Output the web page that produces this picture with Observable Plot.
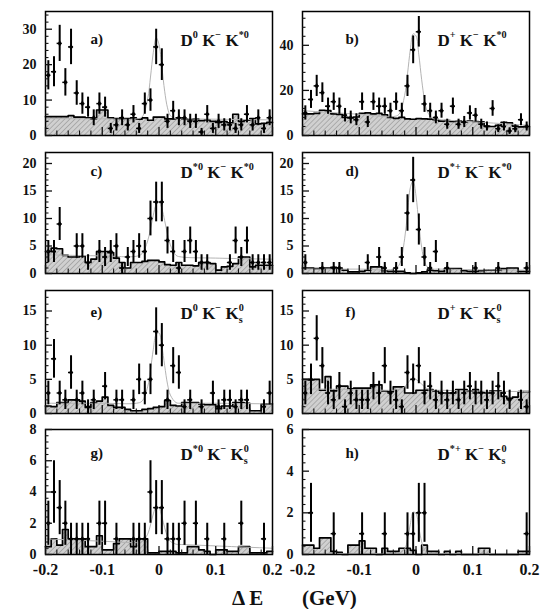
<!DOCTYPE html>
<html><head><meta charset="utf-8">
<script src="https://cdn.jsdelivr.net/npm/d3@7"></script>
<script src="https://cdn.jsdelivr.net/npm/@observablehq/plot@0.6"></script>
<style>
html,body{margin:0;padding:0;background:#fff;}
#root{position:relative;width:545px;height:609px;overflow:hidden;}
#root svg{position:absolute;overflow:visible;}
</style></head><body>
<svg width="0" height="0" style="position:absolute;left:0;top:0">
  <defs>
    <pattern id="hatch" width="3.6" height="3.6" patternUnits="userSpaceOnUse" patternTransform="rotate(45)">
      <rect width="3.6" height="3.6" fill="#d0d0d0"></rect>
      <line x1="0" y1="0" x2="0" y2="3.6" stroke="#7e7e7e" stroke-width="0.9"></line>
    </pattern>
  </defs>
</svg>
<div id="root"></div>
<script>
// ---- binning of ΔE (GeV) ----
const binLo = -0.2, binW = 0.01, nBins = 40;

// ---- data points (events per bin, bin k centred at -0.195 + 0.01k) ----
const countsA = [17,18,26,15,25,12,9,8,5,9,8,2,3,5,3,6,2,9,10,25,20,4,7,5,5,4,4,1,6,2,4,3,3,2,3,6,3,5,2,5];
const countsB = [10,16,22,19,13,15,13,9,8,7,15,6,15,13,13,11,15,11,22,38,46,14,11,8,11,5,13,5,6,10,9,5,4,12,3,4,2,3,7,4];
const countsC = [4,4,9,0,0,5,5,2,0,4,3,4,5,1,3,4,5,4,10,13,13,6,4,1,4,6,4,2,2,0,0,0,2,6,3,6,2,2,2,2];
const countsD = [2,0,0,1,0,1,1,0,0,0,0,2,0,3,1,0,1,3,11,17,8,3,1,4,0,1,0,0,0,0,1,0,0,0,1,0,0,0,0,1];
const countsE = [3,8,3,2,6,2,3,1,2,0,4,0,2,2,0,2,5,3,5,12,10,2,7,6,1,2,0,1,0,3,1,2,2,1,2,2,0,0,1,3];
const countsF = [3,5,11,7,3,2,4,1,3,2,2,2,4,3,7,3,2,1,6,5,7,3,4,2,3,2,3,2,3,4,3,3,2,3,4,3,2,0,2,1];
const countsG = [2,4,3,2,1,1,1,1,0,2,2,0,1,0,0,1,1,1,4,3,3,1,1,1,2,0,2,0,1,0,0,1,0,0,2,0,0,0,1,0];
const countsH = [0,2,0,0,0,1,0,0,0,0,1,0,0,0,1,0,0,0,1,1,2,2,0,0,0,0,0,0,0,0,0,0,0,0,0,0,0,0,0,1];

// ---- background (hatched) histograms, same bins ----
const bkgA = [5.3,5.3,5.3,5.3,5.6,5.2,5.2,5.0,4.7,7.2,7.2,5.0,4.8,4.6,4.8,5.0,4.6,5.0,4.3,5.2,5.2,4.7,4.7,4.9,4.7,4.5,4.7,4.2,4.4,4.0,3.7,3.9,3.6,6.0,4.0,4.3,4.8,3.3,3.4,3.7];
const bkgB = [9.6,9.6,9.8,11.2,11.0,9.6,9.4,8.0,7.8,8.2,9.8,10.0,9.6,9.8,9.2,8.0,7.6,8.0,7.4,7.2,7.5,7.4,7.3,7.0,6.4,6.6,6.2,6.5,6.0,6.4,6.2,6.0,4.2,4.0,4.5,5.8,5.6,4.2,3.8,4.0];
const bkgC = [4.0,4.6,4.5,3.3,3.0,3.0,3.2,2.0,2.6,4.0,4.0,3.8,2.8,2.0,1.0,2.0,2.0,2.2,2.4,2.4,2.1,1.6,1.5,2.0,1.5,1.5,1.4,2.0,2.0,1.8,0.6,1.2,1.3,1.8,3.0,3.0,1.2,1.5,1.5,1.5];
const bkgD = [1.0,1.0,0.9,1.0,1.0,1.1,1.0,0.6,0.3,0.3,0.4,0.6,1.2,1.2,0.5,0.4,0.4,0.4,0.1,0.0,0.1,0.3,0.6,0.5,0.4,0.9,0.9,0.9,0.5,0.4,0.4,0.5,0.6,0.6,0.6,0.9,1.0,1.0,0.4,0.4];
const bkgE = [1.1,1.0,1.6,1.6,2.0,2.0,1.8,0.9,1.6,1.8,2.4,1.2,0.9,0.9,0.6,0.4,0.4,0.6,0.7,0.9,1.0,1.9,1.2,1.1,1.6,1.6,1.6,1.4,1.3,1.3,0.7,1.1,1.1,1.6,1.6,1.5,0.4,0.4,1.4,1.4];
const bkgF = [5.0,4.9,5.0,3.4,5.4,3.3,4.0,4.0,3.6,3.7,3.7,3.7,4.2,4.2,3.3,3.2,3.9,3.9,3.0,3.0,3.4,3.4,3.5,3.3,3.0,3.0,3.0,3.5,3.5,3.3,3.5,3.1,3.0,3.3,3.3,2.5,2.2,2.4,3.2,3.2];
const bkgG = [0.5,1.0,0.6,1.6,1.0,1.0,1.0,0.5,0.5,1.2,0.3,0.3,0.7,1.0,1.0,0.5,1.0,1.0,0.1,0.1,0.2,0.2,0.2,0.1,0.1,0.5,0.5,0.3,0.2,0.0,0.3,0.3,0.2,0.2,0.5,0.5,0.1,0.1,0.1,0.2];
const bkgH = [0.45,0.45,0.3,0.8,0.8,0.15,0.1,0,0.45,0.45,0.65,0.3,0.3,0,0.3,0.15,0.15,0.3,0.3,0.2,0,0.45,0.15,0.15,0,0.15,0,0.15,0,0,0,0.3,0.3,0,0,0,0,0,0.15,0.15];

// ---- fit curves (grey), read at these ΔE positions ----
const fitX = [-0.2,-0.1,-0.04,-0.03,-0.02,-0.015,-0.01,-0.005,0,0.005,0.01,0.015,0.02,0.03,0.04,0.1,0.2];
const fitA = [4.8,4.7,4.7,5.2,10.3,16.5,23.5,27.6,25.7,19.4,12.5,7.8,5.6,4.7,4.7,4.6,4.4];
const fitB = [11,9.4,8.4,9.4,17.8,27.3,38.1,45.1,44.2,35.8,24.7,15.8,10.6,7.5,7.1,6.1,4.5];
const fitC = [3.4,3.2,3.13,3.6,5.9,8.1,10.6,12.5,13.0,11.8,9.6,7.1,5.2,3.3,3.0,2.8,2.6];
const fitD = [0.8,0.8,0.8,1.5,6.3,11.1,15.6,16.9,14.1,9.1,4.7,2.2,1.2,0.8,0.8,0.7,0.6];
const fitE = [1.5,1.5,1.5,1.8,3.9,6.4,9.4,11.6,11.8,9.9,7.0,4.3,2.7,1.6,1.5,1.5,1.4];
const fitF = [3.6,3.5,3.4,3.5,3.9,4.4,4.9,5.2,5.0,4.7,4.3,3.9,3.6,3.4,3.4,3.3,3.2];
const fitG = [1.0,0.85,0.76,0.81,1.30,1.89,2.6,3.06,2.99,2.43,1.71,1.15,0.84,0.66,0.64,0.55,0.4];
const fitH = [0.05,0.05,0.05,0.05,0.26,0.72,1.45,2.04,1.96,1.29,0.6,0.21,0.08,0.05,0.05,0.05,0.05];

// ---- tick labels / texts ----
const xMajor = [-0.2,-0.1,0,0.1,0.2];
const xMinor = [-0.18,-0.16,-0.14,-0.12,-0.08,-0.06,-0.04,-0.02,0.02,0.04,0.06,0.08,0.12,0.14,0.16,0.18];
const panelLetters = ["a)","b)","c)","d)","e)","f)","g)","h)"];
const panelTitles = [
  [["D","0"],["K","\u2212"],["K","*0"]],
  [["D","+"],["K","\u2212"],["K","*0"]],
  [["D","*0"],["K","\u2212"],["K","*0"]],
  [["D","*+"],["K","\u2212"],["K","*0"]],
  [["D","0"],["K","\u2212"],["K","0","s"]],
  [["D","+"],["K","\u2212"],["K","0","s"]],
  [["D","*0"],["K","\u2212"],["K","0","s"]],
  [["D","*+"],["K","\u2212"],["K","0","s"]]
];
const yMax = [35,55,22,22,18,18,8,6];
const yMajor = [[0,10,20,30],[0,20,40],[0,5,10,15,20],[0,5,10,15,20],[0,5,10,15],[0,5,10,15],[0,2,4,6,8],[0,2,4,6]];
const yMinorStep = [2,4,1,1,1,1,0.4,0.4];
const axisTitle = ["\u0394 E", "(GeV)"];

// ---- layout ----
const serif = "'Liberation Serif','Times New Roman',serif";
const colLeft = [0,275], colWidth = [275,270], colML = [45,27], colMR = [3,16];
const rowTop = [11,152,290,429], rowH = [124,121,123,125];
const labelDy = [22,13,16,18];

const allCounts = [countsA,countsB,countsC,countsD,countsE,countsF,countsG,countsH];
const allBkg = [bkgA,bkgB,bkgC,bkgD,bkgE,bkgF,bkgG,bkgH];
const allFit = [fitA,fitB,fitC,fitD,fitE,fitF,fitG,fitH];

const binEdges = d3.range(nBins + 1).map(i => +(binLo + i * binW).toFixed(4));
const binCenters = d3.range(nBins).map(i => +(binLo + (i + 0.5) * binW).toFixed(4));

const root = document.getElementById("root");
const NS = "http://www.w3.org/2000/svg";

function plainTitle(segs) {
  return segs.map(([b, sup, sub]) => b + (sup || "") + (sub || "")).join(" ");
}

function setTitle(svg, segs) {
  const key = plainTitle(segs);
  const t = Array.from(svg.querySelectorAll("text")).find(e => e.textContent === key);
  if (!t) return;
  const fs = parseFloat(getComputedStyle(t).fontSize) || 16;
  t.textContent = "";
  let off = 0;
  const add = (str, target, size, dx) => {
    const s = document.createElementNS(NS, "tspan");
    s.textContent = str;
    s.setAttribute("dy", target - off); off = target;
    if (size) s.setAttribute("font-size", size);
    if (dx) s.setAttribute("dx", dx);
    t.appendChild(s); return s;
  };
  segs.forEach(([base, sup, sub], i) => {
    add((i ? " " : "") + base, 0);
    let supEl = null;
    if (sup) supEl = add(sup, -0.42 * fs, 0.6 * fs);
    if (sub) {
      const w = supEl ? supEl.getComputedTextLength() : 0;
      add(sub, 0.28 * fs, 0.6 * fs, -w);
    }
  });
}

for (let p = 0; p < 8; p++) {
  const col = p % 2, row = Math.floor(p / 2);
  const mT = 6, mB = row === 3 ? 30 : 6;
  const counts = allCounts[p], bkg = allBkg[p], fit = allFit[p];
  const pts = binCenters.map((x, i) => ({x, n: counts[i]})).filter(d => d.n > 0);
  const hist = binEdges.map((x, i) => ({x, v: bkg[Math.min(i, nBins - 1)]}));
  const fitData = fitX.map((x, i) => ({x, y: fit[i]}));
  const minor = d3.range(0, yMax[p] + 1e-9, yMinorStep[p]).map(v => +v.toFixed(3)).filter(v => !yMajor[p].some(m => Math.abs(m - v) < 1e-6));
  const showX = row === 3;
  const fmtX = showX ? (d => String(d)) : (() => "");

  const svg = Plot.plot({
    width: colWidth[col],
    height: mT + rowH[row] + mB,
    marginLeft: colML[col], marginRight: colMR[col], marginTop: mT, marginBottom: mB,
    x: {domain: [-0.2, 0.2], label: null},
    y: {domain: [0, yMax[p]], label: null},
    style: {background: "transparent", fontFamily: serif, color: "#111", overflow: "visible"},
    marks: [
      Plot.areaY(hist, {x: "x", y: "v", curve: "step-after", fill: "url(#hatch)"}),
      Plot.lineY(hist, {x: "x", y: "v", curve: "step-after", stroke: "#000", strokeWidth: 1.7}),
      Plot.line(fitData, {x: "x", y: "y", curve: "catmull-rom", stroke: "#b4b4b4", strokeWidth: 1, clip: true}),
      Plot.ruleX(pts, {x: "x", y1: d => d.n - Math.sqrt(d.n), y2: d => d.n + Math.sqrt(d.n), stroke: "#000", strokeWidth: 2, clip: true}),
      Plot.ruleY(pts, {y: "n", x1: d => d.x - 0.0045, x2: d => d.x + 0.0045, stroke: "#000", strokeWidth: 1.5}),
      Plot.dot(pts, {x: "x", y: "n", r: 2, fill: "#000", symbol: "diamond"}),
      Plot.frame({stroke: "#000", strokeWidth: 1.5}),
      Plot.axisY(yMajor[p], {tickSize: -7, tickPadding: 16, fontSize: 14, fontWeight: "bold", strokeWidth: 1.3}),
      Plot.axisY(minor, {tickSize: -3.5, tickFormat: () => "", strokeWidth: 1.1}),
      Plot.axisX(xMajor, {tickSize: -8, tickPadding: 17, tickFormat: fmtX, fontSize: 16, fontWeight: "bold", strokeWidth: 1.3}),
      Plot.axisX(xMinor, {tickSize: -4.5, tickFormat: () => "", strokeWidth: 1.1}),
      Plot.text([panelLetters[p]], {text: d => d, frameAnchor: "top-left", dx: col ? 43 : 45, dy: labelDy[row], fontSize: 15, fontWeight: "bold", textAnchor: "start", fill: "#111"}),
      Plot.text([panelTitles[p]], {text: d => plainTitle(d), frameAnchor: "top-left", dx: 135, dy: labelDy[row], fontSize: 17, fontWeight: "bold", textAnchor: "start", fill: "#111"})
    ]
  });
  svg.style.left = colLeft[col] + "px";
  svg.style.top = (rowTop[row] - mT) + "px";
  root.appendChild(svg);
  setTitle(svg, panelTitles[p]);
}

// axis title ΔE (GeV)
const ov = document.createElementNS(NS, "svg");
ov.setAttribute("width", 545); ov.setAttribute("height", 609);
ov.style.left = "0px"; ov.style.top = "0px";
[[232, axisTitle[0]], [302, axisTitle[1]]].forEach(([x, s]) => {
  const t = document.createElementNS(NS, "text");
  t.setAttribute("x", x); t.setAttribute("y", 605);
  t.setAttribute("font-family", serif); t.setAttribute("font-weight", "bold");
  t.setAttribute("font-size", 21); t.setAttribute("fill", "#111");
  t.textContent = s;
  ov.appendChild(t);
});
root.appendChild(ov);
</script>
</body></html>
